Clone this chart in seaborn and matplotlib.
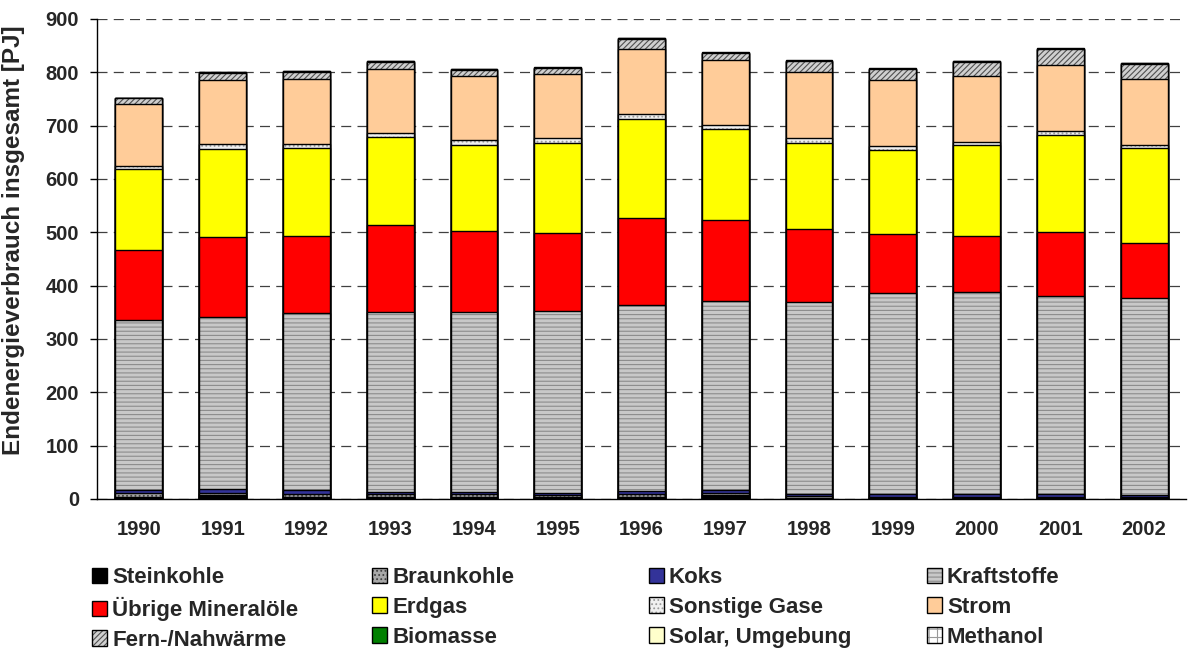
import numpy as np
import pandas as pd
import matplotlib
matplotlib.use("Agg")
import matplotlib.pyplot as plt
from matplotlib.patches import Patch, Rectangle
import seaborn as sns

# ---------------- data (PJ) ----------------
years = ["1990", "1991", "1992", "1993", "1994", "1995", "1996",
         "1997", "1998", "1999", "2000", "2001", "2002"]
steinkohle = [4, 7, 3, 4, 3, 3, 4, 7, 1, 1, 1, 1, 1]
braunkohle = [7, 5, 6, 5, 6, 5, 6, 5, 5, 2, 3, 3, 3]
koks = [6, 7, 7, 5, 5, 4, 5, 4, 3, 6, 5, 5, 4]
kraftstoffe = [318, 323, 333, 337, 337, 341, 349, 356, 361, 378, 380, 372, 369]
uebrige_mineraloele = [131, 149, 144, 163, 151, 145, 163, 152, 136, 109, 104, 119, 103]
erdgas = [153, 166, 165, 165, 162, 170, 186, 169, 161, 158, 170, 183, 178]
sonstige_gase = [6, 8, 8, 8, 9, 9, 8, 8, 9, 7, 6, 7, 5]
strom = [116, 120, 122, 119, 120, 119, 122, 122, 124, 124, 124, 124, 124]
fernwaerme = [10, 14, 13, 14, 12, 12, 20, 13, 21, 21, 27, 29, 29]
biomasse = [0.3, 0.3, 0.3, 0.3, 0.3, 0.3, 0.3, 0.3, 0.3, 0.3, 0.3, 0.3, 0.3]
solar = [0.5, 0.5, 0.5, 0.5, 0.5, 0.5, 0.5, 0.5, 0.5, 0.5, 0.5, 0.5, 0.5]
methanol = [1, 1, 1, 1, 1, 1, 1, 1, 1, 1, 1, 1, 1]

names = ["Steinkohle", "Braunkohle", "Koks", "Kraftstoffe",
         "Übrige Mineralöle", "Erdgas", "Sonstige Gase", "Strom",
         "Fern-/Nahwärme", "Biomasse", "Solar, Umgebung", "Methanol"]
values = [steinkohle, braunkohle, koks, kraftstoffe, uebrige_mineraloele,
          erdgas, sonstige_gase, strom, fernwaerme, biomasse, solar, methanol]

# style per series: facecolor, hatch, hatch colour
styles = {
    "Steinkohle": ("#000000", None, None),
    "Braunkohle": ("#a8a8a8", "....", "#404040"),
    "Koks": ("#333399", None, None),
    "Kraftstoffe": ("#c8c8c8", "----", "#8c8c8c"),
    "Übrige Mineralöle": ("#ff0000", None, None),
    "Erdgas": ("#ffff00", None, None),
    "Sonstige Gase": ("#f0f0f0", "....", "#9a9a9a"),
    "Strom": ("#ffcc99", None, None),
    "Fern-/Nahwärme": ("#d0d0d0", "//////", "#505050"),
    "Biomasse": ("#008000", None, None),
    "Solar, Umgebung": ("#ffffcc", None, None),
    "Methanol": ("#ffffff", "++", "#9a9a9a"),
}

df = pd.DataFrame({n: v for n, v in zip(names, values)}, index=years)
cum = df.cumsum(axis=1)

# ---------------- figure ----------------
sns.set_style("white")
plt.rcParams["font.family"] = ["Liberation Sans", "DejaVu Sans"]
plt.rcParams["font.weight"] = "bold"
plt.rcParams["hatch.linewidth"] = 0.8

W, H = 1188, 654
fig = plt.figure(figsize=(W / 100, H / 100), dpi=100)
ax = fig.add_axes([97 / W, 1 - 499 / H, (1186 - 97) / W, (499 - 19) / H])
ax.set_axisbelow(True)
ax.yaxis.grid(True, linestyle=(0, (8, 5)), color="#404040", linewidth=0.9)
ax.xaxis.grid(False)

for name in reversed(names):
    face, hatch, hc = styles[name]
    n0 = len(ax.patches)
    sns.barplot(x=years, y=cum[name].values, order=years, color=face,
                saturation=1, width=0.56, errorbar=None, ax=ax)
    new = list(ax.patches[n0:])
    for p in new:
        p.set_linewidth(0)
        if hatch:
            p.set_hatch(hatch)
            p.set_edgecolor(hc)
        outline = Rectangle(p.get_xy(), p.get_width(), p.get_height(),
                            fill=False, edgecolor="black", linewidth=1.0,
                            zorder=p.get_zorder())
        ax.add_patch(outline)

ax.set_xlim(-0.5, len(years) - 0.5)
ax.set_ylim(0, 900)
ax.set_yticks(np.arange(0, 901, 100))
ax.set_xticks(np.arange(len(years)))
ax.set_xticklabels(years)
ax.set_xticks(np.arange(-0.5, len(years), 1), minor=True)
ax.tick_params(axis="x", which="major", length=0, pad=15, labelsize=14.5)
ax.tick_params(axis="x", which="minor", length=6, width=1, color="black",
               direction="out")
ax.tick_params(axis="y", length=5, width=1, color="black", direction="out",
               pad=8, labelsize=14.5, left=True)
for lab in ax.get_xticklabels() + ax.get_yticklabels():
    lab.set_fontweight("bold")
ax.set_xlabel("")
ax.set_ylabel("Endenergieverbrauch insgesamt [PJ]", fontsize=17.5,
              fontweight="bold")
ax.yaxis.set_label_coords(-0.066, 0.54)
for s in ["top", "right"]:
    ax.spines[s].set_visible(False)
for s in ["left", "bottom"]:
    ax.spines[s].set_color("black")
    ax.spines[s].set_linewidth(1)

# ---------------- legend: 3 rows x 4 columns ----------------
col_x = [92, 372, 649, 927]
for c in range(4):
    hs, ls = [], []
    for r in range(3):
        name = names[c + 4 * r]
        face, hatch, hc = styles[name]
        if hatch:
            h = (Patch(facecolor=face, hatch=hatch, edgecolor=hc, linewidth=0),
                 Patch(fill=False, edgecolor="black", linewidth=1.0))
        else:
            h = Patch(facecolor=face, edgecolor="black", linewidth=1.0)
        hs.append(h)
        ls.append(name)
    leg = fig.legend(hs, ls, loc="upper left",
                     bbox_to_anchor=(col_x[c] / W, 1 - 567 / H),
                     frameon=False, fontsize=16, handlelength=0.68,
                     handleheight=0.68, handletextpad=0.22,
                     labelspacing=0.4, borderaxespad=0, borderpad=0)
    for t in leg.get_texts():
        t.set_fontweight("bold")

fig.savefig("out.png", dpi=100)
